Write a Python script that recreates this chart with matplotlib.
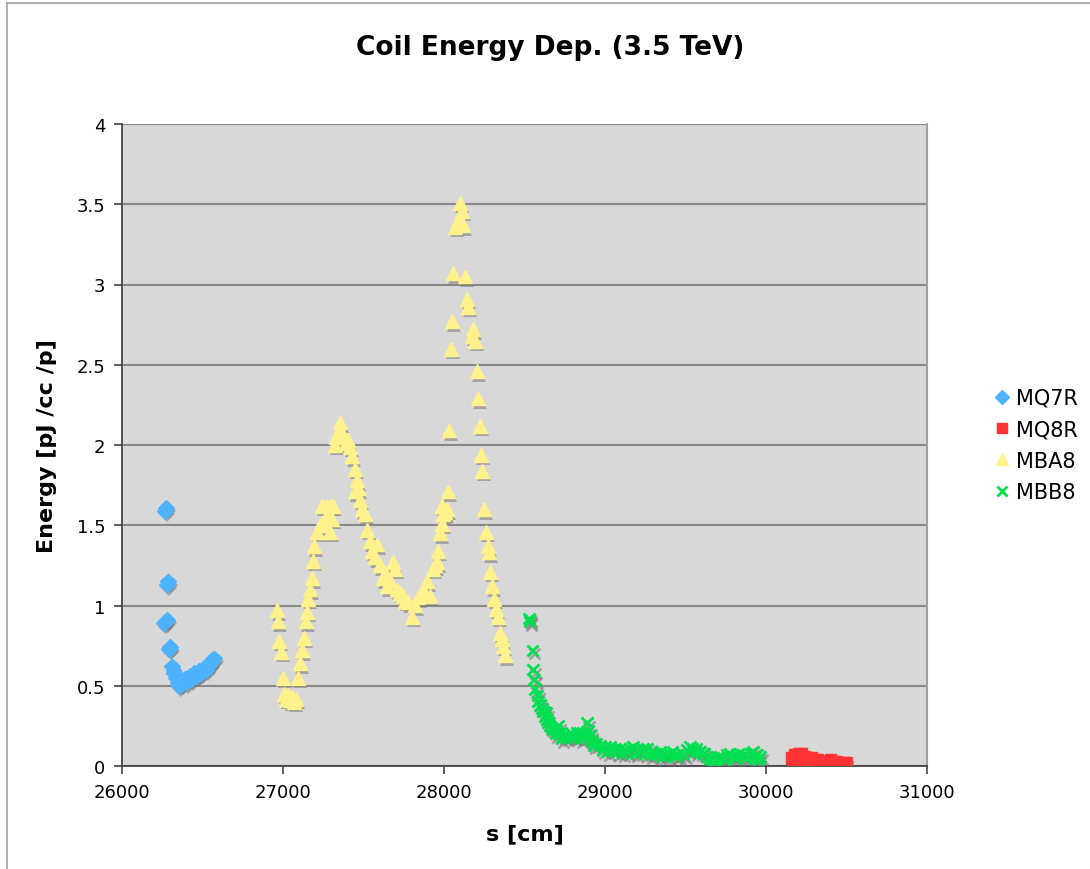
import matplotlib
matplotlib.use("Agg")
import matplotlib.pyplot as plt
import matplotlib.patheffects as pe
from matplotlib.lines import Line2D

# ---- data -------------------------------------------------------------
mq7r_s = [26268, 26272, 26280, 26285, 26258, 26270, 26280, 26290, 26300,
          26312, 26320, 26325, 26335, 26345, 26355, 26365, 26375, 26390,
          26400, 26410, 26420, 26430, 26440, 26450, 26460, 26470, 26480,
          26490, 26500, 26510, 26520, 26530, 26540, 26550, 26560, 26570]
mq7r_e = [1.59, 1.61, 1.13, 1.15, 0.89, 0.90, 0.91, 0.73, 0.74,
          0.62, 0.60, 0.58, 0.55, 0.52, 0.50, 0.51, 0.53, 0.54,
          0.52, 0.55, 0.56, 0.54, 0.57, 0.58, 0.56, 0.57, 0.59,
          0.58, 0.60, 0.61, 0.60, 0.62, 0.63, 0.64, 0.66, 0.67]

mq8r_s = [30160, 30170, 30180, 30190, 30200, 30210, 30220, 30240, 30260,
          30280, 30300, 30320, 30340, 30360, 30380, 30400, 30420, 30440,
          30460, 30480, 30500]
mq8r_e = [0.05, 0.02, 0.07, 0.03, 0.08, 0.02, 0.08, 0.06, 0.05,
          0.05, 0.04, 0.04, 0.03, 0.03, 0.03, 0.04, 0.03, 0.03,
          0.02, 0.02, 0.02]

mba8_s = [26963, 26969, 26975, 26988, 27000, 27006, 27019, 27031, 27043,
          27056, 27068, 27081, 27093, 27106, 27118, 27130, 27143, 27149,
          27155, 27168, 27180, 27186, 27192, 27211, 27230, 27248, 27273,
          27242, 27267, 27292, 27311, 27292, 27304, 27323, 27329, 27342,
          27354, 27373, 27391, 27404, 27416, 27429, 27447, 27460, 27466,
          27447, 27478, 27491, 27509, 27522, 27540, 27553, 27571, 27584,
          27602, 27621, 27634, 27646, 27665, 27683, 27696, 27708, 27727,
          27745, 27758, 27776, 27801, 27820, 27838, 27851, 27870, 27894,
          27913, 27932, 27944, 27957, 27963, 27975, 27988, 27994, 27988,
          28006, 28019, 28025, 28031, 28043, 28050, 28056, 28068, 28087,
          28099, 28112, 28118, 28130, 28143, 28149, 28174, 28180, 28192,
          28205, 28211, 28224, 28230, 28236, 28248, 28261, 28273, 28280,
          28286, 28298, 28311, 28323, 28335, 28348, 28360, 28366, 28379]
mba8_e = [0.97, 0.90, 0.78, 0.71, 0.55, 0.45, 0.42, 0.44, 0.41,
          0.43, 0.40, 0.42, 0.55, 0.64, 0.72, 0.80, 0.90, 0.96,
          1.04, 1.10, 1.17, 1.28, 1.37, 1.46, 1.50, 1.52, 1.56,
          1.62, 1.62, 1.62, 1.62, 1.46, 1.54, 2.00, 2.05, 2.08,
          2.14, 2.06, 2.01, 2.03, 1.99, 1.93, 1.85, 1.78, 1.73,
          1.71, 1.66, 1.60, 1.57, 1.47, 1.40, 1.34, 1.30, 1.38,
          1.25, 1.17, 1.20, 1.12, 1.15, 1.27, 1.23, 1.10, 1.08,
          1.06, 1.03, 1.02, 0.93, 1.00, 1.05, 1.06, 1.10, 1.15,
          1.06, 1.23, 1.25, 1.27, 1.34, 1.45, 1.51, 1.57, 1.62,
          1.58, 1.60, 1.71, 2.09, 2.60, 2.77, 3.07, 3.36, 3.40,
          3.51, 3.46, 3.37, 3.05, 2.91, 2.86, 2.68, 2.72, 2.65,
          2.46, 2.29, 2.12, 1.94, 1.84, 1.60, 1.46, 1.37, 1.33,
          1.21, 1.12, 1.04, 0.98, 0.93, 0.83, 0.79, 0.75, 0.69]

mbb8_s = [28528, 28530, 28532, 28547, 28553, 28559, 28565, 28578, 28584,
          28596, 28609, 28627, 28634, 28646, 28658, 28677, 28696, 28708,
          28720, 28739, 28758, 28783, 28801, 28826, 28845, 28863, 28876,
          28888, 28900, 28907, 28919, 28925, 28944, 28969, 29000, 29031,
          29062, 29093, 29124, 29155, 29174, 29205, 29236, 29261, 29292,
          29317, 29342, 29373, 29404, 29422, 29453, 29478, 29509, 29528,
          29546, 29571, 29590, 29609, 29634, 29652, 29671, 29696, 29714,
          29733, 29758, 29776, 29795, 29820, 29838, 29857, 29882, 29901,
          29919, 29944, 29963,
          28615, 28640, 28670, 28690, 28730, 28770, 28810, 28850, 28930,
          28985, 29015, 29045, 29080, 29110, 29140, 29190, 29220, 29250,
          29280, 29330, 29360, 29390, 29440, 29490, 29560, 29620, 29680,
          29740, 29810, 29870, 29930, 29955]
mbb8_e = [0.92, 0.90, 0.91, 0.72, 0.60, 0.54, 0.48, 0.44, 0.40,
          0.38, 0.36, 0.31, 0.33, 0.27, 0.25, 0.23, 0.22, 0.25,
          0.20, 0.19, 0.18, 0.21, 0.19, 0.21, 0.20, 0.21, 0.19,
          0.27, 0.22, 0.19, 0.16, 0.15, 0.14, 0.13, 0.12, 0.12,
          0.11, 0.11, 0.10, 0.11, 0.12, 0.10, 0.11, 0.11, 0.09,
          0.08, 0.09, 0.08, 0.08, 0.09, 0.07, 0.08, 0.10, 0.12,
          0.11, 0.11, 0.09, 0.08, 0.06, 0.05, 0.04, 0.05, 0.06,
          0.05, 0.07, 0.08, 0.06, 0.07, 0.08, 0.07, 0.06, 0.08,
          0.09, 0.07, 0.06,
          0.34, 0.29, 0.24, 0.20, 0.17, 0.19, 0.18, 0.17, 0.13,
          0.10, 0.09, 0.10, 0.09, 0.08, 0.09, 0.08, 0.09, 0.08,
          0.07, 0.07, 0.06, 0.07, 0.06, 0.07, 0.09, 0.08, 0.03,
          0.04, 0.05, 0.05, 0.05, 0.04]

x_ticks = [26000, 27000, 28000, 29000, 30000, 31000]
y_ticks = [0, 0.5, 1, 1.5, 2, 2.5, 3, 3.5, 4]
y_tick_labels = ["0", "0.5", "1", "1.5", "2", "2.5", "3", "3.5", "4"]

# ---- figure -----------------------------------------------------------
plt.rcParams["font.family"] = ["DejaVu Sans"]
fig = plt.figure(figsize=(10.9, 8.7), dpi=100)
ax = fig.add_axes([122 / 1090, 1 - 767 / 870, (927 - 122) / 1090, (767 - 125) / 870])
ax.set_facecolor("#d8d8d8")

# chart-area border (left and top edges)
fig.add_artist(Line2D([7 / 1090, 7 / 1090], [0, 1 - 4 / 870], transform=fig.transFigure,
                      color="#a0a0a0", lw=1.2))
fig.add_artist(Line2D([7 / 1090, 1], [1 - 4 / 870, 1 - 4 / 870], transform=fig.transFigure,
                      color="#a0a0a0", lw=1.2))

shadow = [pe.SimplePatchShadow(offset=(1.5, -2.5), shadow_rgbFace="#7a7a7a", alpha=0.55),
          pe.Normal()]
line_shadow = [pe.SimpleLineShadow(offset=(1.5, -2.5), shadow_color="#7a7a7a", alpha=0.55),
               pe.Normal()]

ax.plot(mq7r_s, mq7r_e, ls="none", marker="D", ms=8, mfc="#4db2ff", mec="#4db2ff",
        label="MQ7R", path_effects=shadow, zorder=3)
ax.plot(mq8r_s, mq8r_e, ls="none", marker="s", ms=8, mfc="#ff3333", mec="#ff3333",
        label="MQ8R", path_effects=shadow, zorder=3)
ax.plot(mba8_s, mba8_e, ls="none", marker="^", ms=10, mfc="#fff28c", mec="#fff28c",
        label="MBA8", path_effects=shadow, zorder=3)
ax.plot(mbb8_s, mbb8_e, ls="none", marker="x", ms=8, mew=2, color="#00e050",
        label="MBB8", path_effects=line_shadow, zorder=3)

ax.set_xlim(26000, 31000)
ax.set_ylim(0, 4)
ax.set_xticks(x_ticks)
ax.set_yticks(y_ticks)
ax.set_yticklabels(y_tick_labels)
ax.yaxis.grid(True, color="#888888", lw=1.5)
ax.set_axisbelow(True)

for side in ("left", "bottom"):
    ax.spines[side].set_color("#444444")
    ax.spines[side].set_linewidth(1.3)
ax.spines["right"].set_color("#a0a0a0")
ax.spines["right"].set_linewidth(1.5)
ax.spines["top"].set_visible(False)

ax.tick_params(axis="both", direction="out", length=6, width=1.2, color="#444444",
               labelsize=13, pad=6)

fig.text(550 / 1090, 1 - 48 / 870, "Coil Energy Dep. (3.5 TeV)", fontsize=19,
         fontweight="bold", ha="center", va="center")
ax.set_xlabel("s [cm]", fontsize=16, fontweight="bold", labelpad=16)
ax.set_ylabel("Energy [pJ /cc /p]", fontsize=16, fontweight="bold", labelpad=14)

leg = ax.legend(loc="center left", bbox_to_anchor=(1.058, 0.5), frameon=False,
                fontsize=15, handletextpad=0.25, labelspacing=0.55, handlelength=0.9,
                markerscale=0.85)
for h in leg.legend_handles:
    h.set_path_effects([])

fig.savefig("out.png", dpi=100)
